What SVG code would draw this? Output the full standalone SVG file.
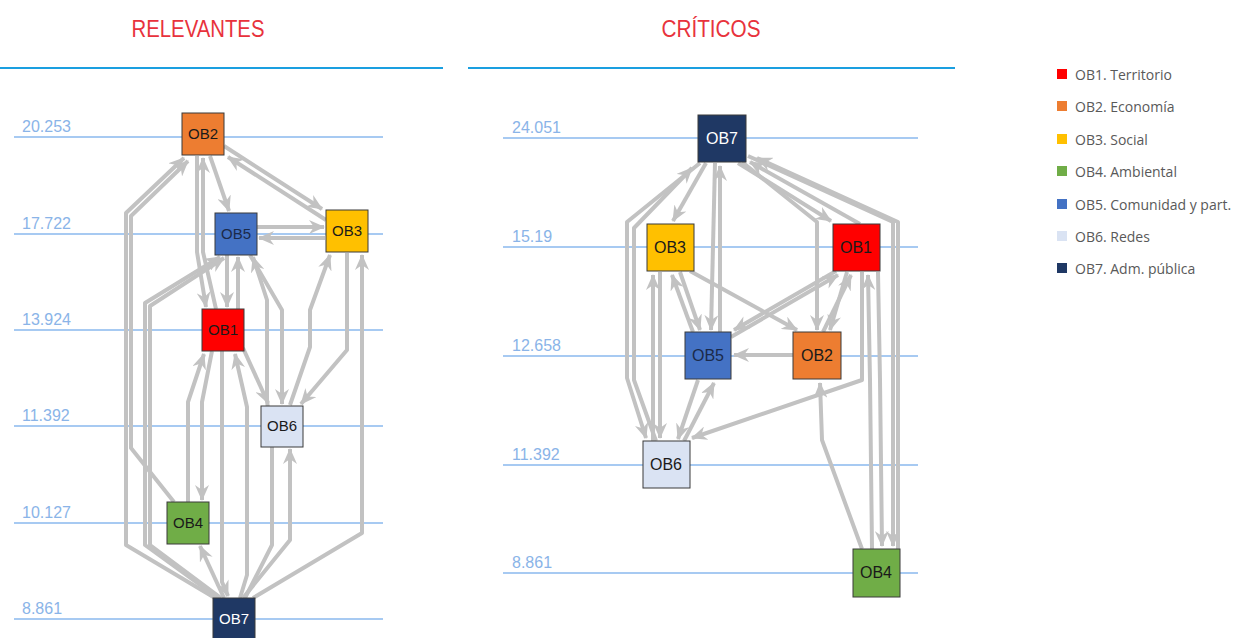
<svg xmlns="http://www.w3.org/2000/svg" width="1245" height="638" viewBox="0 0 1245 638">
<style>
.title{font-family:"Liberation Sans",Arial,sans-serif;font-size:23px;fill:#e8323c}
.hdr{stroke:#1a9fe0;stroke-width:2}
.grid{stroke:#8ab8ee;stroke-width:1.5}
.axl{font-family:"Liberation Sans",Arial,sans-serif;font-size:16px;fill:#8ab4e8}
.e{fill:none;stroke:#c2c2c2;stroke-width:4;stroke-linejoin:round;marker-end:url(#ah)}
.box{stroke:#3a3a3a;stroke-width:1}
.nl{font-family:"Liberation Sans",Arial,sans-serif;font-size:15px;fill:#1a1a1a;text-anchor:middle}
.lg{font-family:"Open Sans","Noto Sans",sans-serif;font-size:14px;fill:#595959}
</style>
<defs>
<marker id="ah" viewBox="0 0 16 14" refX="15" refY="7" markerWidth="16" markerHeight="14" markerUnits="userSpaceOnUse" orient="auto">
<path d="M0,0 L16,7 L0,14 L5,7 Z" fill="#c2c2c2"/>
</marker>
</defs>
<rect width="1245" height="638" fill="#ffffff"/>

<g id="headers">
<text class="title" x="198" y="37" text-anchor="middle" textLength="133" lengthAdjust="spacingAndGlyphs">RELEVANTES</text>
<text class="title" x="711" y="37" text-anchor="middle" textLength="99" lengthAdjust="spacingAndGlyphs">CRÍTICOS</text>
<line class="hdr" x1="0" y1="68" x2="443" y2="68"/>
<line class="hdr" x1="468" y1="68" x2="955" y2="68"/>
</g>

<g id="axes-left">
<line class="grid" x1="14" y1="137" x2="383" y2="137"/>
<line class="grid" x1="14" y1="234" x2="383" y2="234"/>
<line class="grid" x1="14" y1="330" x2="383" y2="330"/>
<line class="grid" x1="14" y1="426" x2="383" y2="426"/>
<line class="grid" x1="14" y1="523" x2="383" y2="523"/>
<line class="grid" x1="14" y1="619" x2="383" y2="619"/>
<text class="axl" x="22" y="132">20.253</text>
<text class="axl" x="22" y="229">17.722</text>
<text class="axl" x="22" y="325">13.924</text>
<text class="axl" x="22" y="421">11.392</text>
<text class="axl" x="22" y="518">10.127</text>
<text class="axl" x="22" y="614">8.861</text>
</g>

<g id="axes-right">
<line class="grid" x1="503" y1="138" x2="918" y2="138"/>
<line class="grid" x1="503" y1="247" x2="918" y2="247"/>
<line class="grid" x1="503" y1="356" x2="918" y2="356"/>
<line class="grid" x1="503" y1="465" x2="918" y2="465"/>
<line class="grid" x1="503" y1="573" x2="918" y2="573"/>
<text class="axl" x="512" y="133">24.051</text>
<text class="axl" x="512" y="242">15.19</text>
<text class="axl" x="512" y="351">12.658</text>
<text class="axl" x="512" y="460">11.392</text>
<text class="axl" x="512" y="568">8.861</text>
</g>

<g id="connectors">
<!-- left: relevantes -->
<polyline class="e" points="224,146 322,209"/>
<polyline class="e" points="326,220 228,157"/>
<polyline class="e" points="210,156 229,211"/>
<polyline class="e" points="257,227 324,227"/>
<polyline class="e" points="325,238 259,238"/>
<polyline class="e" points="197,156 197,252 206,307"/>
<polyline class="e" points="216,309 203,252 203,158"/>
<polyline class="e" points="227,255 227,307"/>
<polyline class="e" points="238,309 238,257"/>
<polyline class="e" points="215,598 126,545 126,213 184,158"/>
<polyline class="e" points="174,502 131,448 131,216 188,161"/>
<polyline class="e" points="218,598 145,545 145,303 220,257"/>
<polyline class="e" points="221,598 150,545 150,306 224,258"/>
<polyline class="e" points="188,502 188,402 204,354"/>
<polyline class="e" points="212,351 202,402 202,500"/>
<polyline class="e" points="224,598 200,546"/>
<polyline class="e" points="222,351 222,582 228,596"/>
<polyline class="e" points="240,598 247,575 247,407 235,354"/>
<polyline class="e" points="243,348 268,403"/>
<polyline class="e" points="250,255 282,310 282,404"/>
<polyline class="e" points="245,598 272,545 272,447 267,400 267,300 253,257"/>
<polyline class="e" points="290,405 310,347 310,310 330,255"/>
<polyline class="e" points="347,253 347,350 301,404"/>
<polyline class="e" points="253,598 362,533 362,255"/>
<polyline class="e" points="243,598 290,540 290,449"/>
<!-- right: criticos -->
<polyline class="e" points="706,163 673,221"/>
<polyline class="e" points="700,163 627,222 627,378 646,438"/>
<polyline class="e" points="656,441 634,380 634,228 692,168"/>
<polyline class="e" points="715,163 711,330"/>
<polyline class="e" points="720,332 720,166"/>
<polyline class="e" points="738,163 831,221"/>
<polyline class="e" points="742,162 817,222 817,330"/>
<polyline class="e" points="860,224 750,162"/>
<polyline class="e" points="748,156 893,222 893,546"/>
<polyline class="e" points="898,549 898,222 757,158"/>
<polyline class="e" points="680,272 700,330"/>
<polyline class="e" points="693,332 672,275"/>
<polyline class="e" points="690,271 797,330"/>
<polyline class="e" points="836,271 734,330"/>
<polyline class="e" points="731,337 838,275"/>
<polyline class="e" points="823,332 851,275"/>
<polyline class="e" points="847,272 830,330"/>
<polyline class="e" points="793,355 734,355"/>
<polyline class="e" points="660,272 660,438"/>
<polyline class="e" points="653,441 653,275"/>
<polyline class="e" points="698,380 678,439"/>
<polyline class="e" points="684,441 714,383"/>
<polyline class="e" points="862,272 862,380 692,438"/>
<polyline class="e" points="862,549 822,440 820,383"/>
<polyline class="e" points="872,549 870,380 868,275"/>
<polyline class="e" points="878,272 880,380 882,546"/>
</g>

<!-- left nodes -->
<g id="L-OB2"><rect class="box" x="182" y="113" width="42" height="42" fill="#ed7d31"/><text class="nl" x="203" y="139">OB2</text></g>
<g id="L-OB5"><rect class="box" x="215" y="213" width="42" height="42" fill="#4472c4"/><text class="nl" x="236" y="239" style="fill:#1b2a4a">OB5</text></g>
<g id="L-OB3"><rect class="box" x="326" y="210" width="42" height="42" fill="#ffc000"/><text class="nl" x="347" y="236">OB3</text></g>
<g id="L-OB1"><rect class="box" x="202" y="309" width="42" height="42" fill="#ff0000"/><text class="nl" x="223" y="335">OB1</text></g>
<g id="L-OB6"><rect class="box" x="261" y="406" width="42" height="41" fill="#dae3f3"/><text class="nl" x="282" y="431">OB6</text></g>
<g id="L-OB4"><rect class="box" x="167" y="502" width="42" height="42" fill="#70ad47"/><text class="nl" x="188" y="528">OB4</text></g>
<g id="L-OB7"><rect class="box" x="213" y="598" width="42" height="44" fill="#1f3864"/><text class="nl" x="234" y="624" style="fill:#ffffff">OB7</text></g>

<!-- right nodes -->
<g id="R-OB7"><rect class="box" x="698" y="115" width="48" height="47" fill="#1f3864"/><text class="nl" x="722" y="144" style="fill:#ffffff;font-size:16px">OB7</text></g>
<g id="R-OB3"><rect class="box" x="647" y="224" width="47" height="47" fill="#ffc000"/><text class="nl" x="670" y="253" style="font-size:16px">OB3</text></g>
<g id="R-OB1"><rect class="box" x="833" y="224" width="47" height="47" fill="#ff0000"/><text class="nl" x="856" y="253" style="font-size:16px">OB1</text></g>
<g id="R-OB5"><rect class="box" x="685" y="332" width="46" height="47" fill="#4472c4"/><text class="nl" x="708" y="361" style="fill:#1b2a4a;font-size:16px">OB5</text></g>
<g id="R-OB2"><rect class="box" x="793" y="332" width="48" height="47" fill="#ed7d31"/><text class="nl" x="817" y="361" style="font-size:16px">OB2</text></g>
<g id="R-OB6"><rect class="box" x="643" y="441" width="47" height="47" fill="#dae3f3"/><text class="nl" x="666" y="470" style="font-size:16px">OB6</text></g>
<g id="R-OB4"><rect class="box" x="853" y="549" width="47" height="48" fill="#70ad47"/><text class="nl" x="876" y="578" style="font-size:16px">OB4</text></g>

<g id="legend">
<rect x="1057" y="69" width="10" height="10" fill="#ff0000"/><text class="lg" x="1075" y="80">OB1. Territorio</text>
<rect x="1057" y="101" width="10" height="10" fill="#ed7d31"/><text class="lg" x="1075" y="112">OB2. Economía</text>
<rect x="1057" y="134" width="10" height="10" fill="#ffc000"/><text class="lg" x="1075" y="145">OB3. Social</text>
<rect x="1057" y="166" width="10" height="10" fill="#70ad47"/><text class="lg" x="1075" y="177">OB4. Ambiental</text>
<rect x="1057" y="199" width="10" height="10" fill="#4472c4"/><text class="lg" x="1075" y="210">OB5. Comunidad y part.</text>
<rect x="1057" y="231" width="10" height="10" fill="#dae3f3"/><text class="lg" x="1075" y="242">OB6. Redes</text>
<rect x="1057" y="263" width="10" height="10" fill="#1f3864"/><text class="lg" x="1075" y="274">OB7. Adm. pública</text>
</g>
</svg>
